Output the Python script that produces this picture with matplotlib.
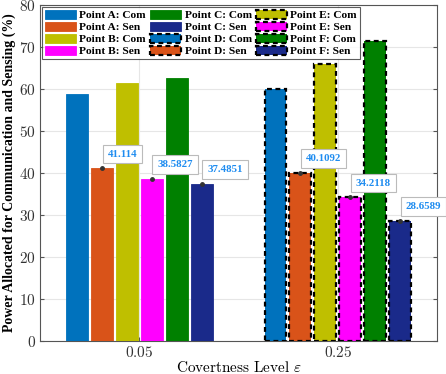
import numpy as np
import matplotlib.pyplot as plt
from matplotlib.patches import Patch

plt.rcParams['mathtext.fontset'] = 'cm'
plt.rcParams['font.family'] = 'Liberation Serif'

# Data
eps_labels = ['0.05', '0.25']
series_a = ['Point A: Com', 'Point A: Sen', 'Point B: Com', 'Point B: Sen', 'Point C: Com', 'Point C: Sen']
series_b = ['Point D: Com', 'Point D: Sen', 'Point E: Com', 'Point E: Sen', 'Point F: Com', 'Point F: Sen']
vals_a = [58.9, 41.114, 61.4, 38.5827, 62.5, 37.4851]
vals_b = [60.0, 40.1092, 65.9, 34.2118, 71.4, 28.6589]
colors = ['#0072BD', '#D95319', '#BFBF00', '#FF00FF', '#008000', '#1A2A8A']

fig = plt.figure(figsize=(4.46, 3.74), dpi=100)
ax = fig.add_axes([0.0897, 0.088, 0.8903, 0.899])

x = np.array([1, 2])
step = 0.1256
width = 0.11
offsets = (np.arange(6) - 2.5) * step

for i in range(6):
    ax.bar(x[0] + offsets[i], vals_a[i], width, color=colors[i],
           edgecolor=colors[i], linewidth=0.6, zorder=3)
    ax.bar(x[1] + offsets[i], vals_b[i], width, color=colors[i],
           edgecolor='black', linewidth=1.6, linestyle=(0, (2.2, 1.6)), zorder=3)

# data tips on the sensing bars
for g, vals in enumerate([vals_a, vals_b]):
    for i in [1, 3, 5]:
        xp = x[g] + offsets[i]
        yp = vals[i]
        ax.plot(xp, yp, 'o', color='#333333', ms=2.5, zorder=5)
        ax.annotate(f'{yp:g}', (xp, yp), xytext=(4, 7), textcoords='offset points',
                    ha='left', va='bottom', fontsize=7.8, fontweight='bold', color='#1E8CF0',
                    bbox=dict(boxstyle='square,pad=0.45', fc='white', ec='#BBBBBB', lw=0.8),
                    zorder=6, annotation_clip=False)

ax.set_xlim(0.5, 2.5)
ax.set_ylim(0, 80)
ax.set_xticks(x)
ax.set_xticklabels(['$' + s + '$' for s in eps_labels], fontsize=11)
ax.set_yticks(np.arange(0, 81, 10))
ax.set_yticklabels(['$%d$' % v for v in range(0, 81, 10)], fontsize=11)
ax.tick_params(direction='in', length=3, color='#555555', top=False, right=True,
               labelcolor='#333333', pad=3)
ax.grid(True, color='#E6E6E6', lw=0.8, zorder=0)
for s in ax.spines.values():
    s.set_color('#555555')
    s.set_linewidth(0.8)

ax.set_xlabel(r'$\mathrm{Covertness\ Level}\ \varepsilon$', fontsize=11, labelpad=0)
ax.set_ylabel('Power Allocated for Communication and Sensing (%)', fontsize=10,
              fontweight='bold', labelpad=2)

handles = []
labels = []
for i in range(6):
    handles.append(Patch(facecolor=colors[i], edgecolor=colors[i], lw=0.6))
    labels.append(series_a[i])
for i in range(6):
    handles.append(Patch(facecolor=colors[i], edgecolor='black', lw=1.6, linestyle=(0, (2.2, 1.6))))
    labels.append(series_b[i])
leg = ax.legend(handles, labels, ncol=3, loc='upper left',
                prop={'weight': 'bold', 'size': 8.2}, frameon=True, fancybox=False,
                edgecolor='#333333', borderaxespad=0.2, handlelength=2.7, handleheight=0.85,
                labelspacing=0.12, columnspacing=0.4, handletextpad=0.3, borderpad=0.25)
leg.get_frame().set_linewidth(0.8)

fig.savefig('out.png', dpi=100)
